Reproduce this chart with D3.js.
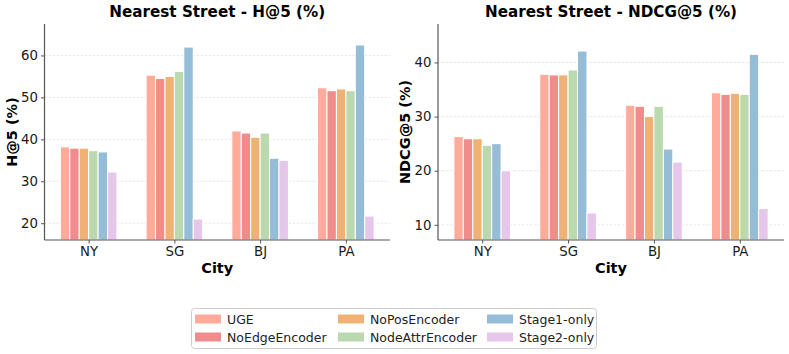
<!DOCTYPE html>
<html><head><meta charset="utf-8">
<script src="https://cdn.jsdelivr.net/npm/d3@7"></script>
<style>body{margin:0;background:#fff}svg{font-family:"DejaVu Sans",sans-serif}</style>
</head><body><svg id="c" width="789" height="354"></svg>
<script>
const cities = ["NY","SG","BJ","PA"];
const methods = ["UGE","NoEdgeEncoder","NoPosEncoder","NodeAttrEncoder","Stage1-only","Stage2-only"];
const colors = ["#FFAB9C","#F18C8C","#EFB274","#BBD9AE","#96BDD8","#E6C6EA"];
// values per method, in order of cities
const hit5 = [
  [38.2,55.3,42.0,52.3],
  [37.9,54.5,41.5,51.6],
  [37.9,55.0,40.5,52.0],
  [37.3,56.2,41.5,51.6],
  [37.0,62.0,35.5,62.5],
  [32.2,21.0,35.0,21.7]
];
const ndcg5 = [
  [26.3,37.8,32.1,34.4],
  [25.9,37.7,31.9,34.1],
  [25.9,37.7,30.0,34.3],
  [24.7,38.6,31.9,34.1],
  [25.0,42.1,24.0,41.5],
  [20.0,12.2,21.6,13.0]
];
const hitTicks = [20,30,40,50,60];
const ndcgTicks = [10,20,30,40];

const svg = d3.select("#c");
const barW = 0.11;

function panel(x0, x1, data, ticks, title, ylabel, ylabX) {
  const top = 24, bottom = 240;
  const all = data.flat();
  const yMin = d3.min(all) - 5, yMax = d3.max(all) + 5;
  const x = d3.scaleLinear().domain([-0.515, 3.515]).range([x0, x1]);
  const y = d3.scaleLinear().domain([yMin, yMax]).range([bottom, top]);
  const g = svg.append("g");
  // grid
  g.selectAll("line.grid").data(ticks).join("line")
    .attr("x1", x0).attr("x2", x1)
    .attr("y1", d => y(d)).attr("y2", d => y(d))
    .attr("stroke", "#e2e2e2").attr("stroke-width", 0.8).attr("stroke-dasharray", "2.5,1.5");
  // bars
  methods.forEach((m, i) => {
    g.selectAll(null).data(data[i]).join("rect")
      .attr("x", (d, j) => x(j + (i - 2.5) * barW - barW / 2))
      .attr("width", x(barW) - x(0))
      .attr("y", d => y(d))
      .attr("height", d => bottom - y(d))
      .attr("fill", colors[i])
      .attr("stroke", "#fff").attr("stroke-width", 1);
  });
  // axes
  const ya = d3.axisLeft(y).tickValues(ticks).tickSize(3.5).tickPadding(3);
  const yg = g.append("g").attr("transform", `translate(${x0},0)`).call(ya);
  yg.select(".domain").attr("d", `M0,${top}V${bottom}`);
  const xa = d3.axisBottom(x).tickValues([0,1,2,3]).tickFormat(i => cities[i]).tickSize(3.5).tickPadding(3);
  const xg = g.append("g").attr("transform", `translate(0,${bottom})`).call(xa);
  xg.select(".domain").attr("d", `M${x0},0H${x1}`);
  [yg, xg].forEach(a => {
    a.selectAll(".domain").attr("stroke", "#555").attr("stroke-width", 1.2);
    a.selectAll(".tick line").attr("stroke", "#555");
    a.selectAll("text").attr("font-size", 13.3).attr("fill", "#1a1a1a").attr("font-family", "DejaVu Sans");
  });
  g.append("text").attr("x", (x0 + x1) / 2).attr("y", 17).attr("text-anchor", "middle")
    .attr("font-size", 15.2).attr("font-weight", "bold").text(title);
  g.append("text").attr("x", (x0 + x1) / 2).attr("y", 273).attr("text-anchor", "middle")
    .attr("font-size", 14.5).attr("font-weight", "bold").text("City");
  g.append("text").attr("transform", `translate(${ylabX},${(top + bottom) / 2}) rotate(-90)`)
    .attr("text-anchor", "middle").attr("font-size", 14.5).attr("font-weight", "bold").text(ylabel);
}

panel(44.5, 390, hit5, hitTicks, "Nearest Street - H@5 (%)", "H@5 (%)", 17);
panel(438, 784, ndcg5, ndcgTicks, "Nearest Street - NDCG@5 (%)", "NDCG@5 (%)", 410);

// legend
const lg = svg.append("g");
lg.append("rect").attr("x", 191.5).attr("y", 308.5).attr("width", 405).attr("height", 40)
  .attr("rx", 3).attr("fill", "#fff").attr("stroke", "#ccc").attr("stroke-width", 1);
const colX = [195, 338, 487];
methods.forEach((m, i) => {
  const c = Math.floor(i / 2), r = i % 2;
  const yy = 319 + r * 18;
  lg.append("rect").attr("x", colX[c]).attr("y", yy - 4.5).attr("width", 26).attr("height", 9).attr("fill", colors[i]);
  lg.append("text").attr("x", colX[c] + 32).attr("y", yy + 4.5).attr("font-size", 12.5).attr("fill", "#222").text(m);
});
</script></body></html>
